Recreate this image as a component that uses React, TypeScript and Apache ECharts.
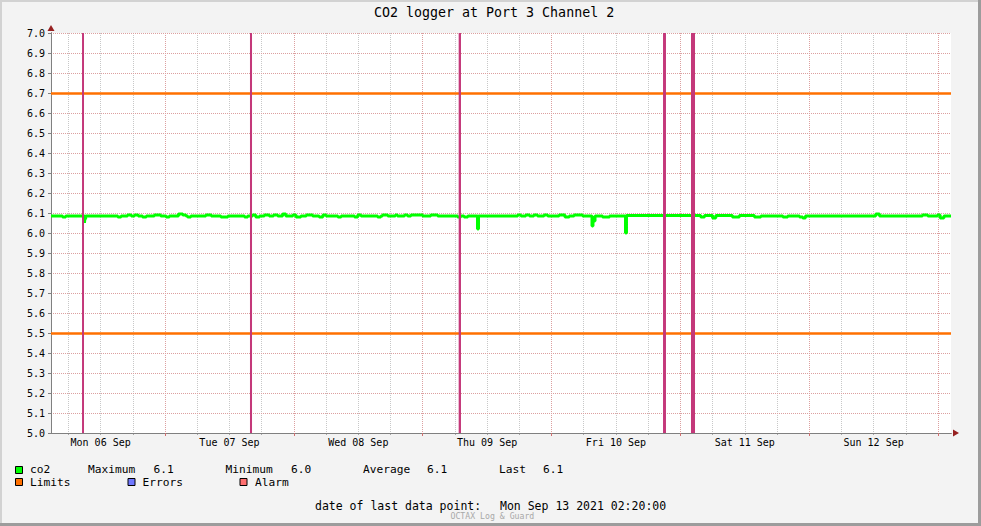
import React, { useEffect, useRef } from 'react';
import * as echarts from 'echarts';

// ---------- data (time in hours since Mon 06 Sep 2021 00:00) ----------
const TITLE = 'CO2 logger at Port 3 Channel 2';
const X_MIN = 2.75;
const X_MAX = 170.42;
const Y_MIN = 5.0;
const Y_MAX = 7.0;
const Y_STEP = 0.1;

const dayLabels = ['Mon 06 Sep', 'Tue 07 Sep', 'Wed 08 Sep', 'Thu 09 Sep', 'Fri 10 Sep', 'Sat 11 Sep', 'Sun 12 Sep'];
const dayLabelHours = [12, 36, 60, 84, 108, 132, 156];
const midnightHours = [24, 48, 72, 96, 120, 144, 168];

const co2Times = [
  2.75, 4.9, 5.5, 8.99, 9.05, 9.2, 15.2, 15.8, 17.0, 17.7, 18.3, 19.0, 19.8, 20.5, 22.0, 23.2, 24.2, 24.8,
  26.5, 27.3, 27.9, 28.2, 28.8, 31.6, 32.6, 34.4, 35.7,
  38.8, 39.4, 40.3, 40.9, 41.6, 42.5, 43.4, 44.2, 45.0, 45.9, 46.5, 47.8, 48.4, 49.3, 50.3, 51.5, 52.7,
  53.4, 54.0, 56.2, 56.8, 59.3, 59.9, 60.5, 63.6, 64.2, 64.5, 65.5, 66.9, 67.3, 68.6, 69.2,
  69.8, 72.0, 73.5, 74.8, 78.5, 79.1, 79.7, 80.4, 82.21, 82.39, 89.7, 90.3, 91.2, 91.9, 92.7, 93.4, 94.6,
  95.3, 97.4, 98.5, 99.3, 100.2, 101.8, 103.54,
  103.72, 104.1, 105.5, 106.8, 109.78, 109.96, 123.8, 124.5, 126.0, 126.6, 129.7, 131.0, 133.8, 135.0,
  139.1, 140.0, 142.2, 142.8, 143.3, 156.4, 157.1, 165.1, 166.1, 167.9, 168.4, 169.1, 170.42,
];
const co2Values = [
  6.085, 6.08, 6.085, 6.05, 6.07, 6.085, 6.08, 6.085, 6.09, 6.085, 6.09, 6.085, 6.08, 6.085, 6.09, 6.085, 6.08, 6.085,
  6.095, 6.09, 6.085, 6.08, 6.085, 6.09, 6.085, 6.08, 6.085,
  6.08, 6.085, 6.09, 6.08, 6.085, 6.09, 6.085, 6.09, 6.085, 6.095, 6.085, 6.09, 6.08, 6.085, 6.09, 6.085, 6.08,
  6.09, 6.085, 6.08, 6.085, 6.08, 6.09, 6.085, 6.08, 6.085, 6.09, 6.085, 6.09, 6.085, 6.09, 6.085,
  6.09, 6.085, 6.09, 6.085, 6.08, 6.085, 6.08, 6.085, 6.02, 6.085, 6.09, 6.085, 6.09, 6.085, 6.09, 6.085, 6.09,
  6.085, 6.09, 6.08, 6.085, 6.09, 6.085, 6.035,
  6.06, 6.085, 6.08, 6.085, 6.0, 6.088, 6.08, 6.088, 6.075, 6.088, 6.08, 6.088, 6.08, 6.085,
  6.08, 6.085, 6.08, 6.075, 6.085, 6.095, 6.085, 6.09, 6.085, 6.09, 6.075, 6.085, 6.085,
];

const limitValues = [6.7, 5.5];

const eventStarts = [8.53, 39.82, 78.7, 116.77, 121.98];
const eventEnds = [8.9, 40.2, 79.13, 117.32, 122.73];

const lastDataPoint = 'Mon Sep 13 2021 02:20:00';
const footer = 'OCTAX Log & Guard';

// ---------- styles ----------
const MONO = 'DejaVu Sans Mono';
const C_GREEN = '#00ff00';
const C_ORANGE = '#ff7000';
const C_BLUE = '#7078ff';
const C_SALMON = '#ff7070';
const C_EVENT = '#c4387a';
const C_AXIS = '#808080';
const C_ARROW = '#962020';
const C_MGRID = '#dca0a0';
const C_GRID = '#c8c8c8';

function buildOption() {
  const sixHour: number[] = [];
  for (let h = 6; h <= X_MAX; h += 6) sixHour.push(h);

  const n = co2Values.length;
  const maxV = Math.max(...co2Values);
  const minV = Math.min(...co2Values);
  const avgV = co2Values.reduce((a, b) => a + b, 0) / n;
  const lastV = co2Values[n - 1];

  const t = (x: number, y: number, s: string, size = 11.2, color = '#000', lh = 11) => ({
    type: 'text',
    x,
    y,
    silent: true,
    style: { text: s, fill: color, fontFamily: MONO, fontSize: size, lineHeight: lh, verticalAlign: 'middle' },
  });
  const sw = (x: number, y: number, color: string) => ({
    type: 'rect',
    silent: true,
    shape: { x: x + 0.5, y: y + 0.5, width: 7, height: 7 },
    style: { fill: color, stroke: '#000', lineWidth: 1 },
  });

  const baseX = {
    type: 'value',
    min: X_MIN,
    max: X_MAX,
    position: 'bottom',
    gridIndex: 0,
  };

  const ROW1 = 469.4;
  const ROW2 = 482.6;

  return {
    animation: false,
    backgroundColor: '#f3f3f3',
    title: {
      text: TITLE,
      left: 374,
      top: 6,
      padding: 0,
      textStyle: { fontFamily: MONO, fontSize: 13.3, fontWeight: 'normal', color: '#000' },
    },
    grid: {
      left: 51,
      top: 33,
      width: 900,
      height: 400,
      show: true,
      backgroundColor: '#ffffff',
      borderWidth: 0,
      containLabel: false,
    },
    xAxis: [
      {
        ...baseX,
        z: 0,
        axisLine: { show: false, onZero: false },
        axisTick: { show: true, customValues: sixHour, length: 2, lineStyle: { color: '#a8a8a8' } },
        axisLabel: { show: false },
        splitLine: { show: true, lineStyle: { color: C_GRID, width: 1, type: [1, 1] } },
      },
      {
        ...baseX,
        z: 1,
        axisLine: {
          show: true,
          onZero: false,
          lineStyle: { color: C_ARROW, width: 1 },
          symbol: ['none', 'triangle'],
          symbolSize: [7, 6],
          symbolOffset: [0, 5],
        },
        axisTick: { show: false },
        axisLabel: { show: false },
        splitLine: { show: false },
      },
      {
        ...baseX,
        z: 2,
        axisLine: { show: true, onZero: false, lineStyle: { color: C_AXIS, width: 1 } },
        axisTick: { show: true, customValues: midnightHours, length: 3, lineStyle: { color: '#d07070' } },
        axisLabel: {
          show: true,
          customValues: dayLabelHours,
          margin: 4,
          color: '#000',
          fontFamily: MONO,
          fontSize: 10,
          formatter: (v: number) => dayLabels[Math.round((v - dayLabelHours[0]) / 24)] ?? '',
        },
        splitLine: { show: true, lineStyle: { color: C_MGRID, width: 1, type: [1, 1] } },
      },
    ],
    yAxis: [
      {
        type: 'value',
        min: Y_MIN,
        max: Y_MAX,
        interval: Y_STEP,
        position: 'left',
        z: 2,
        axisLine: { show: true, onZero: false, lineStyle: { color: C_AXIS, width: 1 } },
        axisTick: { show: true, length: 3, lineStyle: { color: C_AXIS } },
        axisLabel: {
          show: true,
          margin: 6,
          color: '#000',
          fontFamily: MONO,
          fontSize: 10,
          formatter: (v: number) => v.toFixed(1),
        },
        splitLine: { show: true, lineStyle: { color: C_MGRID, width: 1, type: [1, 1] } },
      },
      {
        type: 'value',
        min: Y_MIN,
        max: Y_MAX,
        interval: Y_STEP,
        position: 'left',
        z: 1,
        axisLine: {
          show: true,
          onZero: false,
          lineStyle: { color: C_ARROW, width: 1 },
          symbol: ['none', 'triangle'],
          symbolSize: [7, 6],
          symbolOffset: [0, 5],
        },
        axisTick: { show: false },
        axisLabel: { show: false },
        splitLine: { show: false },
      },
    ],
    series: [
      {
        name: 'co2',
        type: 'line',
        xAxisIndex: 2,
        yAxisIndex: 0,
        step: 'end',
        symbol: 'none',
        showSymbol: false,
        silent: true,
        z: 3,
        lineStyle: { color: C_GREEN, width: 3 },
        data: co2Times.map((tt, i) => [tt, co2Values[i]]),
        markLine: {
          silent: true,
          z: 4,
          symbol: ['none', 'none'],
          label: { show: false },
          emphasis: { disabled: true },
          lineStyle: { color: C_ORANGE, width: 2.5, type: 'solid' },
          data: limitValues.map((v) => ({ yAxis: v })),
        },
        markArea: {
          silent: true,
          z: 6,
          label: { show: false },
          emphasis: { disabled: true },
          itemStyle: { color: C_EVENT, opacity: 1 },
          data: eventStarts.map((s, i) => [{ xAxis: s }, { xAxis: eventEnds[i] }]),
        },
      },
    ],
    graphic: [
      // frame
      { type: 'rect', silent: true, shape: { x: 0, y: 0, width: 981, height: 2 }, style: { fill: '#d2d2d2' } },
      { type: 'rect', silent: true, shape: { x: 0, y: 0, width: 2, height: 526 }, style: { fill: '#d2d2d2' } },
      { type: 'rect', silent: true, shape: { x: 0, y: 523, width: 981, height: 3 }, style: { fill: '#9c9c9c' } },
      { type: 'rect', silent: true, shape: { x: 978, y: 0, width: 3, height: 526 }, style: { fill: '#9c9c9c' } },
      // legend row 1
      sw(15, 466, C_GREEN),
      t(30, ROW1, 'co2'),
      t(88, ROW1, 'Maximum'),
      t(153.5, ROW1, maxV.toFixed(1)),
      t(225.5, ROW1, 'Minimum'),
      t(291, ROW1, minV.toFixed(1)),
      t(363, ROW1, 'Average'),
      t(427, ROW1, avgV.toFixed(1)),
      t(499, ROW1, 'Last'),
      t(543, ROW1, lastV.toFixed(1)),
      // legend row 2
      sw(15, 478, C_ORANGE),
      t(30, ROW2, 'Limits'),
      sw(127.5, 478, C_BLUE),
      t(142.5, ROW2, 'Errors'),
      sw(239.5, 478, C_SALMON),
      t(255, ROW2, 'Alarm'),
      // footer
      t(315, 506, 'date of last data point:', 11.5),
      t(500, 506, lastDataPoint, 11.5),
      t(450.5, 516, footer, 8.2, '#a8a8a8', 7),
    ],
  };
}

export default function App() {
  const ref = useRef<HTMLDivElement>(null);
  useEffect(() => {
    if (!ref.current) return;
    const chart = echarts.init(ref.current, null, { renderer: 'svg' });
    chart.setOption(buildOption() as any);
    return () => chart.dispose();
  }, []);
  return (
    <div
      ref={ref}
      style={{ position: 'fixed', left: 0, top: 0, width: 981, height: 526 }}
    />
  );
}
